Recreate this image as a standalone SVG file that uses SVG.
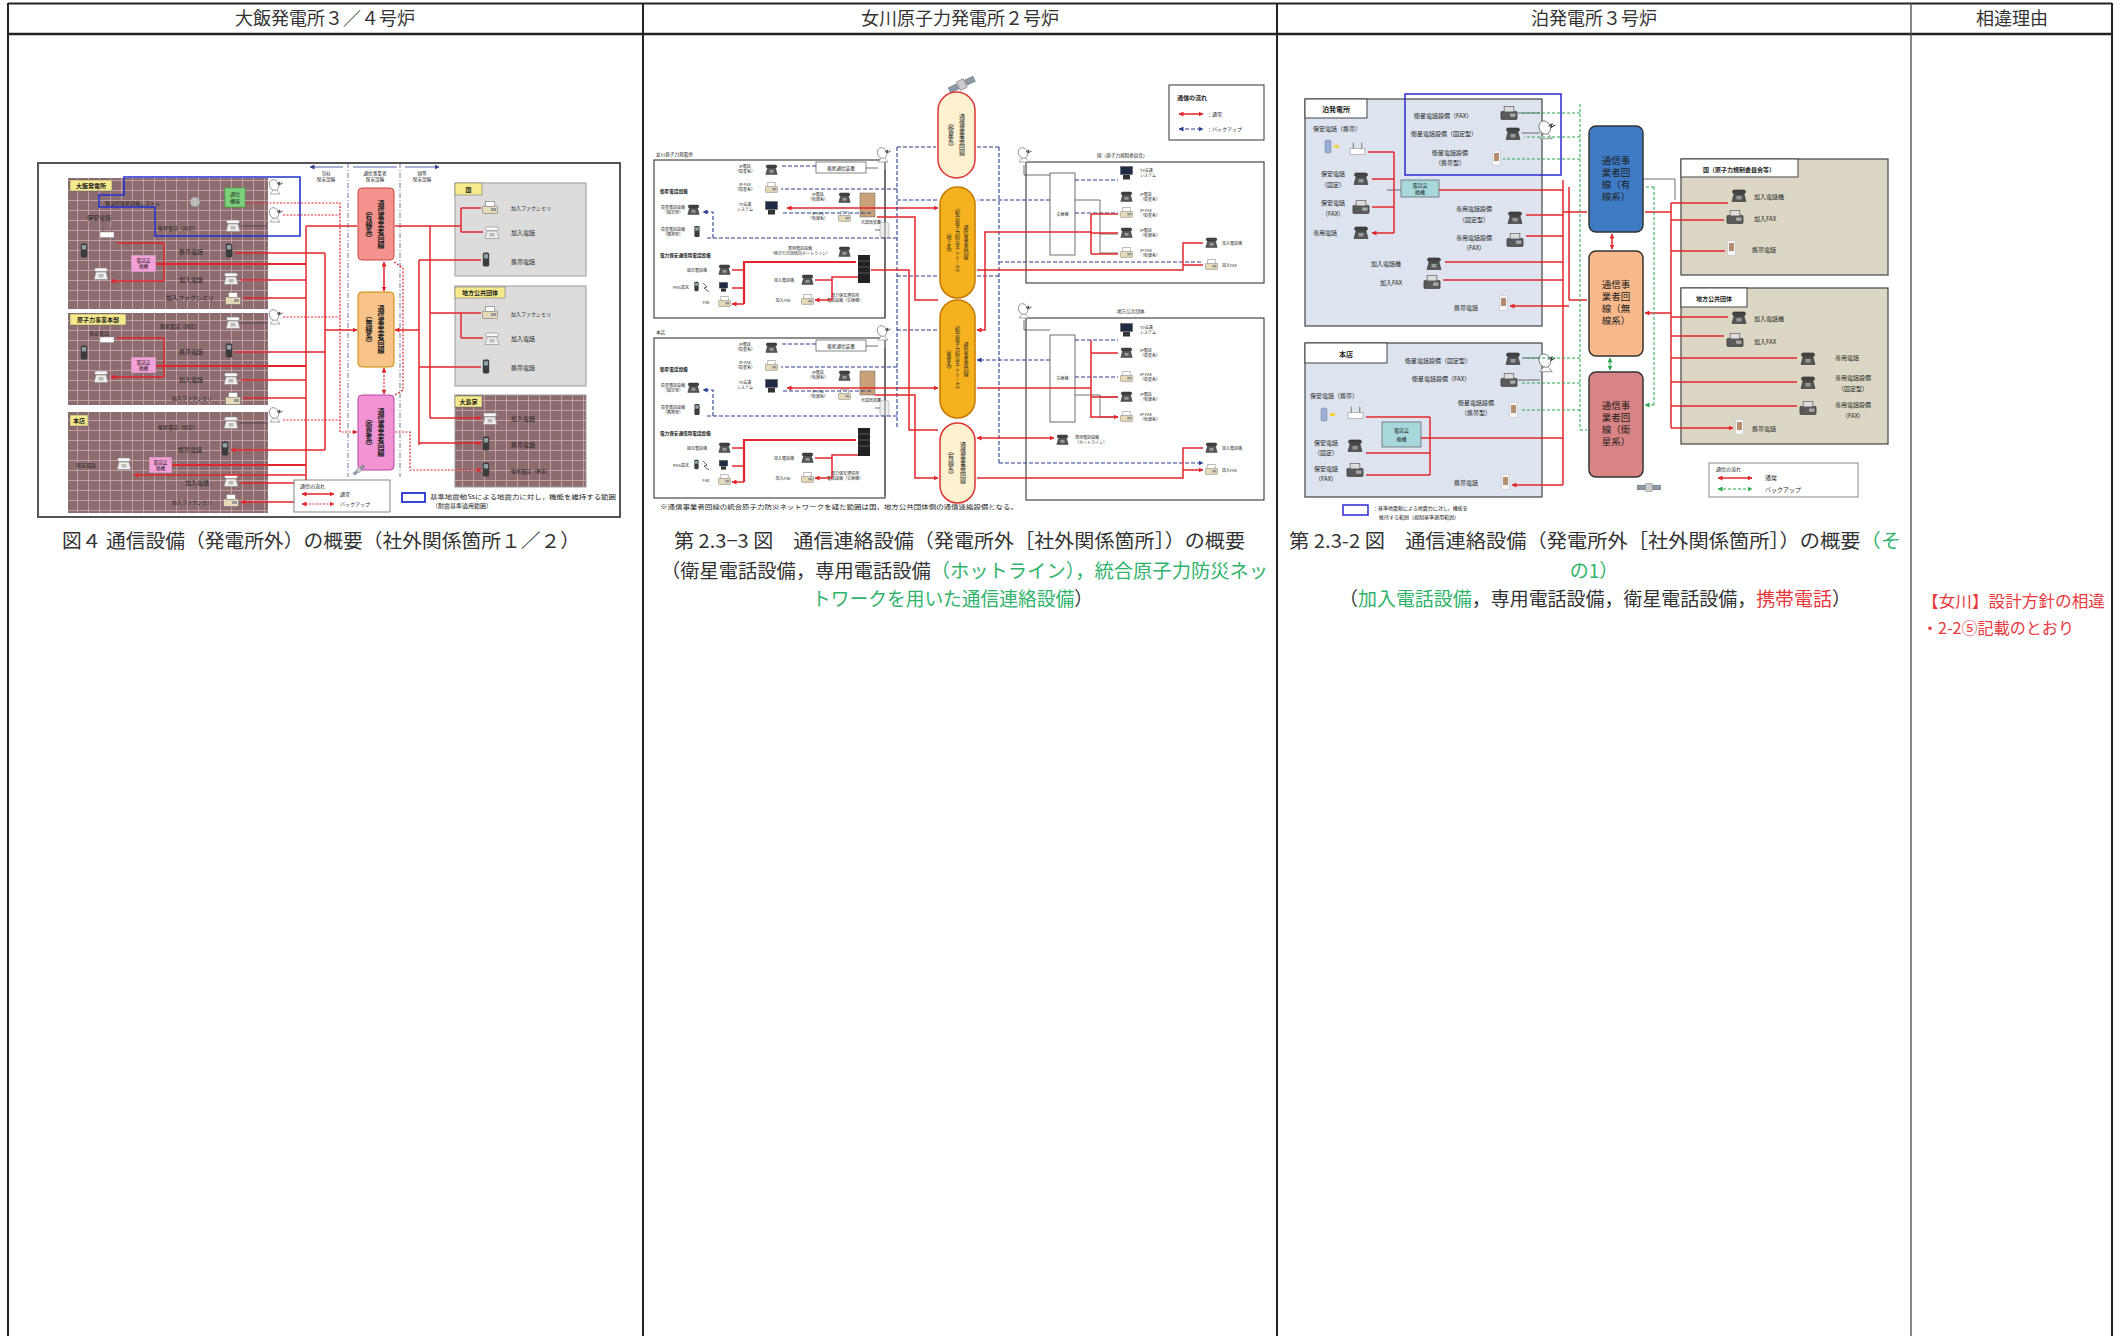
<svg xmlns="http://www.w3.org/2000/svg" width="2121" height="1336" viewBox="0 0 2121 1336">
<defs>
<style>
text{font-family:"Noto Sans CJK JP","Noto Sans",sans-serif;fill:#222}
.hd{font-size:18px;fill:#333}
.cap{font-size:19px;fill:#333}
.gr{fill:#2fb36b}
.red{fill:#e8383d}
.s4{font-size:4px}
.s45{font-size:4.6px}
.s5{font-size:5px}
.s6{font-size:6px}
.s7{font-size:7px}
.b{font-weight:bold}
.r{stroke:#e3262b;stroke-width:1.5;fill:none}
.rk{stroke:#e3262b;stroke-width:2.2;fill:none}
.rd{stroke:#e3262b;stroke-width:1.2;stroke-dasharray:2 1.5;fill:none}
.bl{stroke:#2b3f8f;stroke-width:1.1;stroke-dasharray:4 2;fill:none}
.gd{stroke:#27a84a;stroke-width:1;stroke-dasharray:3 2;fill:none}
.k{stroke:#333;stroke-width:.7;fill:none}
.sep{stroke:#4a5a8a;stroke-width:.8;stroke-dasharray:5 2 1 2;fill:none}
</style>
<pattern id="grid" width="11" height="10" patternUnits="userSpaceOnUse"><rect width="11" height="10" fill="#8d6c70"/><path d="M0 .5H11M.5 0V10" stroke="#caaab0" stroke-width=".8"/></pattern>
<marker id="ar" viewBox="0 0 10 10" refX="9" refY="5" markerWidth="5" markerHeight="5" markerUnits="userSpaceOnUse" orient="auto-start-reverse"><path d="M0 0L10 5L0 10z" fill="#e3262b"/></marker>
<marker id="ab" viewBox="0 0 10 10" refX="9" refY="5" markerWidth="5" markerHeight="5" markerUnits="userSpaceOnUse" orient="auto-start-reverse"><path d="M0 0L10 5L0 10z" fill="#2b3f8f"/></marker>
<marker id="ag" viewBox="0 0 10 10" refX="9" refY="5" markerWidth="5" markerHeight="5" markerUnits="userSpaceOnUse" orient="auto-start-reverse"><path d="M0 0L10 5L0 10z" fill="#27a84a"/></marker>
<symbol id="phw" viewBox="0 0 16 13"><path d="M1 12.5L3 5H13L15 12.5Z" fill="#eee" stroke="#888" stroke-width=".6"/><rect x="1.5" y="1" width="13" height="3.5" rx="1.7" fill="#f7f7f7" stroke="#888" stroke-width=".6"/><rect x="5.5" y="7" width="5" height="3.5" fill="#bbb"/></symbol>
<symbol id="phd" viewBox="0 0 16 13"><path d="M1 12.5L3 5H13L15 12.5Z" fill="#555" stroke="#333" stroke-width=".6"/><rect x="1.5" y="1" width="13" height="3.5" rx="1.7" fill="#444" stroke="#222" stroke-width=".6"/><rect x="5.5" y="7" width="5" height="3.5" fill="#999"/></symbol>
<symbol id="fxw" viewBox="0 0 16 13"><rect x=".5" y="5" width="15" height="7.5" rx="1" fill="#e6d9b8" stroke="#777" stroke-width=".6"/><rect x="3.5" y=".5" width="9" height="5" fill="#fff" stroke="#777" stroke-width=".6"/><rect x="9" y="7" width="5" height="3" fill="#999"/></symbol>
<symbol id="fxd" viewBox="0 0 16 13"><rect x=".5" y="5" width="15" height="7.5" rx="1" fill="#5a5a5a" stroke="#333" stroke-width=".6"/><rect x="3.5" y=".5" width="9" height="5" fill="#ddd" stroke="#555" stroke-width=".6"/><rect x="9" y="7" width="5" height="3" fill="#aaa"/></symbol>
<symbol id="mbd" viewBox="0 0 7 14"><rect x=".5" y=".5" width="6" height="13" rx="1.5" fill="#3c3c3c"/><rect x="1.5" y="2" width="4" height="4" fill="#8fa3a8"/></symbol>
<symbol id="mbw" viewBox="0 0 9 16"><rect x=".5" y=".5" width="8" height="15" rx="1.5" fill="#f6f6f6" stroke="#bbb" stroke-width=".5"/><rect x="2" y="3" width="5" height="8" fill="#b58c6e"/></symbol>
<symbol id="dish" viewBox="0 0 16 16"><path d="M3 15L8 9L13 15Z" fill="#fff" stroke="#777" stroke-width=".6"/><ellipse cx="7" cy="6" rx="4.5" ry="5.5" fill="#fff" stroke="#777" stroke-width=".7" transform="rotate(-25 7 6)"/><path d="M10 5L13 3L12 6L15.5 4" fill="none" stroke="#222" stroke-width=".8"/></symbol>
<symbol id="tv" viewBox="0 0 13 14"><rect x=".5" y=".5" width="12" height="8" fill="#1f2a44" stroke="#555" stroke-width=".5"/><rect x="3" y="9" width="7" height="4.5" fill="#333"/></symbol>
<symbol id="sat" viewBox="0 0 30 14"><rect x="0" y="4" width="10" height="6" fill="#8a9aa8" stroke="#555" stroke-width=".5"/><rect x="20" y="4" width="10" height="6" fill="#8a9aa8" stroke="#555" stroke-width=".5"/><rect x="11" y="2" width="8" height="10" fill="#ccc" stroke="#555" stroke-width=".5"/></symbol>
<symbol id="rtr" viewBox="0 0 16 12"><rect x="1" y="6" width="14" height="5.5" fill="#fff" stroke="#888" stroke-width=".5"/><path d="M4 6V.5M12 6V.5" stroke="#666" stroke-width=".8"/></symbol>
</defs>

<rect width="2121" height="1336" fill="#fff"/>

<g id="table">
<path d="M8 3.5H2112" stroke="#222" stroke-width="2"/>
<path d="M8 34H2112" stroke="#222" stroke-width="2.5"/>
<path d="M8 3V1336M2112 3V1336M643 3V1336M1277 3V1336" stroke="#222" stroke-width="2"/>
<path d="M1911 3V1336" stroke="#555" stroke-width="1.4"/>
<text x="325" y="25" class="hd" text-anchor="middle">大飯発電所３／４号炉</text>
<text x="960" y="25" class="hd" text-anchor="middle">女川原子力発電所２号炉</text>
<text x="1594" y="25" class="hd" text-anchor="middle">泊発電所３号炉</text>
<text x="2012" y="25" class="hd" text-anchor="middle">相違理由</text>
</g>

<!-- ============ LEFT: Ohi ============ -->
<g id="ohi-diagram">
<rect x="38" y="163" width="582" height="354" fill="#fff" stroke="#555" stroke-width="2"/>
<g id="ohi-plant">
<rect x="68" y="178" width="200" height="131" fill="url(#grid)"/>
<rect x="70" y="180" width="42" height="11" fill="#f6ea8c" stroke="#666" stroke-width=".5"/>
<text x="91" y="188" class="s6 b" text-anchor="middle">大飯発電所</text>
<rect x="225" y="188" width="20" height="19" fill="#7ed07e" stroke="#3a3" stroke-width=".6"/>
<text x="235" y="196" class="s5" text-anchor="middle">通信</text><text x="235" y="203" class="s5" text-anchor="middle">機器</text>
<text x="105" y="205" class="s5">緊急時衛星通報システム</text>
<circle cx="195" cy="202" r="5" fill="#bbb" stroke="#777" stroke-width=".5"/>
<text x="87" y="220" class="s6">保安電話</text>
<text x="158" y="230" class="s5">衛星電話（固定）</text>
<use href="#phw" x="225" y="219" width="16" height="13"/>
<use href="#rtr" x="99" y="226" width="16" height="12"/>
<use href="#mbd" x="80" y="243" width="8" height="15"/>
<use href="#phw" x="93" y="267" width="16" height="13"/>
<rect x="131" y="255" width="25" height="17" fill="#f5a0d8" stroke="#777" stroke-width=".5"/>
<text x="143.5" y="262" class="s45" text-anchor="middle">電話交</text><text x="143.5" y="268" class="s45" text-anchor="middle">換機</text>
<text x="179" y="254" class="s6">携帯電話</text>
<use href="#mbd" x="225" y="243" width="8" height="15"/>
<text x="179" y="282" class="s6">加入電話</text>
<use href="#phw" x="223" y="272" width="16" height="13"/>
<text x="166" y="300" class="s6">加入ファクシミリ</text>
<use href="#fxw" x="225" y="292" width="16" height="13"/>
<use href="#dish" x="267" y="179" width="16" height="16"/>
<use href="#dish" x="267" y="207" width="16" height="16"/>
</g>
<g id="ohi-hq">
<rect x="68" y="313" width="200" height="92" fill="url(#grid)"/>
<rect x="70" y="314" width="56" height="11" fill="#f6ea8c" stroke="#666" stroke-width=".5"/>
<text x="98" y="322" class="s6 b" text-anchor="middle">原子力事業本部</text>
<text x="89" y="335" class="s5">保安電話</text>
<text x="160" y="328" class="s5">衛星電話（固定）</text>
<use href="#phw" x="225" y="316" width="16" height="13"/>
<use href="#rtr" x="99" y="331" width="16" height="12"/>
<use href="#mbd" x="80" y="345" width="8" height="15"/>
<use href="#phw" x="93" y="370" width="16" height="13"/>
<rect x="131" y="357" width="25" height="16" fill="#f5a0d8" stroke="#777" stroke-width=".5"/>
<text x="143.5" y="364" class="s45" text-anchor="middle">電話交</text><text x="143.5" y="370" class="s45" text-anchor="middle">換機</text>
<text x="179" y="354" class="s6">携帯電話</text>
<use href="#mbd" x="225" y="343" width="8" height="15"/>
<text x="179" y="382" class="s6">加入電話</text>
<use href="#phw" x="223" y="372" width="16" height="13"/>
<text x="172" y="400" class="s5">加入ファクシミリ</text>
<use href="#fxw" x="225" y="392" width="16" height="13"/>
<use href="#dish" x="267" y="309" width="16" height="16"/>
</g>
<g id="ohi-honten">
<rect x="68" y="412" width="200" height="101" fill="url(#grid)"/>
<rect x="70" y="415" width="18" height="11" fill="#f6ea8c" stroke="#666" stroke-width=".5"/>
<text x="79" y="423" class="s6 b" text-anchor="middle">本店</text>
<text x="158" y="429" class="s5">衛星電話（固定）</text>
<use href="#phw" x="223" y="416" width="16" height="13"/>
<text x="178" y="452" class="s6">携帯電話</text>
<use href="#mbd" x="221" y="441" width="8" height="15"/>
<text x="76" y="467" class="s5">保安電話</text>
<use href="#phw" x="116" y="457" width="16" height="13"/>
<rect x="149" y="457" width="23" height="16" fill="#f5a0d8" stroke="#777" stroke-width=".5"/>
<text x="160.5" y="464" class="s45" text-anchor="middle">電話交</text><text x="160.5" y="470" class="s45" text-anchor="middle">換機</text>
<text x="185" y="485" class="s6">加入電話</text>
<use href="#phw" x="223" y="474" width="16" height="13"/>
<text x="172" y="504" class="s5">加入ファクシミリ</text>
<use href="#fxw" x="223" y="494" width="16" height="13"/>
<use href="#dish" x="267" y="407" width="16" height="16"/>
</g>
<polygon id="ohi-seismic" points="124,177 300,177 300,236 155,236 155,207 99,207 99,195 124,195" fill="none" stroke="#2233cc" stroke-width="1.6"/>

<g id="ohi-carriers">
<path class="sep" d="M348 163V477M400 163V477"/>
<path d="M310 167H343M353 167H397M405 167H439" stroke="#2b3f8f" stroke-width=".8" marker-start="url(#ab)" marker-end="url(#ab)"/>
<text x="326" y="175" class="s45" text-anchor="middle">当社</text><text x="326" y="181" class="s45" text-anchor="middle">保安設備</text>
<text x="375" y="175" class="s45" text-anchor="middle">通信事業者</text><text x="375" y="181" class="s45" text-anchor="middle">保安設備</text>
<text x="422" y="175" class="s45" text-anchor="middle">国等</text><text x="422" y="181" class="s45" text-anchor="middle">保安設備</text>
<g id="ohi-wired"><rect x="358" y="188" width="36" height="72" rx="4" fill="#f4938e" stroke="#c44" stroke-width="1"/>
<text x="381 381 381 381 381 381 381" y="205.7 212.7 219.7 226.7 233.7 240.7 247.7" class="s7 b" text-anchor="middle">通信事業者回線</text>
<text x="369 369 369 369 369" y="212.7 219.7 226.7 233.7 240.7" class="s7 b" text-anchor="middle">︵有線系︶</text></g>
<g id="ohi-wireless"><rect x="358" y="292" width="36" height="75" rx="4" fill="#f8c489" stroke="#c80" stroke-width="1"/>
<text x="381 381 381 381 381 381 381" y="311.2 318.2 325.2 332.2 339.2 346.2 353.2" class="s7 b" text-anchor="middle">通信事業者回線</text>
<text x="369 369 369 369 369" y="318.2 325.2 332.2 339.2 346.2" class="s7 b" text-anchor="middle">︵無線系︶</text></g>
<g id="ohi-satellite"><rect x="358" y="395" width="36" height="75" rx="4" fill="#f293d4" stroke="#b4a" stroke-width="1"/>
<text x="381 381 381 381 381 381 381" y="414.2 421.2 428.2 435.2 442.2 449.2 456.2" class="s7 b" text-anchor="middle">通信事業者回線</text>
<text x="369 369 369 369 369" y="421.2 428.2 435.2 442.2 449.2" class="s7 b" text-anchor="middle">︵衛星系︶</text></g>
<use href="#sat" x="352" y="466" width="14" height="8" transform="rotate(-40 359 470)"/>
</g>

<g id="ohi-offsite">
<g id="ohi-kuni"><rect x="455" y="183" width="131" height="93" fill="#dcdcdc" stroke="#999" stroke-width="1"/>
<rect x="455" y="183" width="27" height="12" fill="#f6ea8c" stroke="#666" stroke-width=".5"/><text x="468.5" y="192" class="s6 b" text-anchor="middle">国</text>
<use href="#fxw" x="482" y="201" width="16" height="13"/><text x="511" y="210" class="s5">加入ファクシミリ</text>
<use href="#phw" x="484" y="226" width="16" height="13"/><text x="511" y="235" class="s6">加入電話</text>
<use href="#mbd" x="482" y="252" width="8" height="15"/><text x="511" y="264" class="s6">携帯電話</text></g>
<g id="ohi-local"><rect x="455" y="286" width="131" height="100" fill="#dcdcdc" stroke="#999" stroke-width="1"/>
<rect x="455" y="287" width="50" height="11" fill="#f6ea8c" stroke="#666" stroke-width=".5"/><text x="480" y="295" class="s6 b" text-anchor="middle">地方公共団体</text>
<use href="#fxw" x="482" y="306" width="16" height="13"/><text x="511" y="316" class="s5">加入ファクシミリ</text>
<use href="#phw" x="484" y="332" width="16" height="13"/><text x="511" y="341" class="s6">加入電話</text>
<use href="#mbd" x="482" y="359" width="8" height="15"/><text x="511" y="370" class="s6">携帯電話</text></g>
<g id="ohi-oshima"><rect x="455" y="395" width="131" height="92" fill="url(#grid)" stroke="#999" stroke-width="1"/>
<rect x="455" y="396" width="27" height="11" fill="#f6ea8c" stroke="#666" stroke-width=".5"/><text x="468.5" y="404" class="s6 b" text-anchor="middle">大島家</text>
<use href="#phw" x="482" y="412" width="16" height="13"/><text x="511" y="421" class="s6">加入電話</text>
<use href="#mbd" x="482" y="436" width="8" height="15"/><text x="511" y="447" class="s6">携帯電話</text>
<use href="#mbd" x="482" y="462" width="8" height="15"/><text x="511" y="473" class="s5">衛星電話（携帯）</text></g>
</g>

<g id="ohi-connectors">
<path class="r" d="M164 243V281"/><path class="r" d="M164 243H117M164 281H111" marker-end="url(#ar)"/>
<path class="r" d="M164 338V377"/><path class="r" d="M164 338H117M164 377H111" marker-end="url(#ar)"/>
<path class="k" d="M241 226H267M241 323H267M239 423H267"/>
<path class="rk" d="M156 264H306M156 366H306M172 465H306"/>
<path class="r" d="M306 475H134" marker-end="url(#ar)"/>
<path class="r" d="M306 226V502M325 253V450"/>
<path class="r" d="M306 226H357M325 330H357" marker-end="url(#ar)"/>
<path class="r" d="M306 280H241M306 298H243M306 380H241M306 398H243M306 483H241M306 502H241" marker-end="url(#ar)"/>
<path class="r" d="M325 253H235M325 352H235M325 450H231" marker-end="url(#ar)"/>
<path class="rd" d="M245 203H340V432H357" marker-end="url(#ar)"/>
<path class="rd" d="M283 317H340M283 420H340M283 215H340"/>
<path class="r" d="M384 262V291" marker-start="url(#ar)" marker-end="url(#ar)"/>
<path class="rd" d="M384 368V394" marker-start="url(#ar)" marker-end="url(#ar)"/>
<path class="rd" d="M394 262L403 268V390L395 395"/>
<path class="r" d="M461 226H395M419 330H395" marker-end="url(#ar)"/>
<path class="r" d="M430 226V418M419 260V445M461 208V232M461 313V338M430 313H461"/>
<path class="r" d="M461 208H481M461 232H483M461 313H481M461 338H483M430 418H481" marker-end="url(#ar)"/>
<path class="r" d="M419 260H481M419 367H481M419 443H481" marker-end="url(#ar)"/>
<path class="rd" d="M395 432H410V470H481" marker-end="url(#ar)"/>
</g>

<g id="ohi-legend">
<rect x="294" y="480" width="96" height="32" fill="#fff" stroke="#666" stroke-width=".8"/>
<text x="300" y="488" class="s5">通信の流れ</text>
<path class="r" d="M302 494H334" marker-start="url(#ar)" marker-end="url(#ar)"/><text x="340" y="496" class="s5">通常</text>
<path class="rd" d="M302 504H334" marker-start="url(#ar)" marker-end="url(#ar)"/><text x="340" y="506" class="s5">バックアップ</text>
<rect x="402" y="493" width="23" height="9" fill="none" stroke="#2233cc" stroke-width="1.8"/>
<text x="430" y="499" class="s6" textLength="186" lengthAdjust="spacingAndGlyphs">基準地震動Ssによる地震力に対し，機能を維持する範囲</text>
<text x="432" y="508" class="s6">（耐震基準適用範囲）</text>
</g>
</g>

<!-- ============ MIDDLE: Onagawa ============ -->
<g id="onagawa-diagram">
<use href="#sat" x="948" y="78" width="28" height="13" transform="rotate(-25 962 85)"/>
<g id="ona-cap1"><rect x="938" y="92" width="37" height="86" rx="18.5" fill="#fdf1cf" stroke="#d33" stroke-width="1.5"/>
<text x="962 962 962 962 962 962 962" y="119.3 125.3 131.3 137.3 143.3 149.3 155.3" class="s6" text-anchor="middle">通信事業者回線</text>
<text x="951 951 951 951 951" y="125.3 131.3 137.3 143.3 149.3" class="s6" text-anchor="middle">︵衛星系︶</text></g>
<g id="ona-cap2"><rect x="940" y="187" width="35" height="111" rx="17.5" fill="#f6b21e" stroke="#c77a00" stroke-width="1.5"/>
<text x="966 966 966 966 966 966 966" y="229.4 234.4 239.4 244.4 249.4 254.4 259.4" class="s5" text-anchor="middle">通信事業者回線</text>
<text x="957.5 957.5 957.5 957.5 957.5 957.5 957.5 957.5 957.5 957.5 957.5 957.5 957.5 957.5 957.5" y="209.4 214.4 219.4 224.4 229.4 234.4 239.4 244.4 249.4 254.4 259.4 264.4 269.4 274.4 279.4" class="s5" text-anchor="middle">︵統合原子力防災ネット｜ク︶</text>
<text x="949 949 949 949 949" y="234.4 239.4 244.4 249.4 254.4" class="s5" text-anchor="middle">︵地上系︶</text></g>
<g id="ona-cap3"><rect x="940" y="300" width="35" height="118" rx="17.5" fill="#f6b21e" stroke="#c77a00" stroke-width="1.5"/>
<text x="966 966 966 966 966 966 966" y="345.9 350.9 355.9 360.9 365.9 370.9 375.9" class="s5" text-anchor="middle">通信事業者回線</text>
<text x="957.5 957.5 957.5 957.5 957.5 957.5 957.5 957.5 957.5 957.5 957.5 957.5 957.5 957.5 957.5" y="325.9 330.9 335.9 340.9 345.9 350.9 355.9 360.9 365.9 370.9 375.9 380.9 385.9 390.9 395.9" class="s5" text-anchor="middle">︵統合原子力防災ネット｜ク︶</text>
<text x="949 949 949 949 949" y="350.9 355.9 360.9 365.9 370.9" class="s5" text-anchor="middle">︵衛星系︶</text></g>
<g id="ona-cap4"><rect x="940" y="423" width="35" height="80" rx="17.5" fill="#fdf1cf" stroke="#d33" stroke-width="1.5"/>
<text x="963 963 963 963 963 963 963" y="447.3 453.3 459.3 465.3 471.3 477.3 483.3" class="s6" text-anchor="middle">通信事業者回線</text>
<text x="951 951 951 951 951" y="453.3 459.3 465.3 471.3 477.3" class="s6" text-anchor="middle">︵有線系︶</text></g>

<g id="ona-legend"><rect x="1169" y="85" width="95" height="55" fill="#fff" stroke="#333" stroke-width="1"/>
<text x="1177" y="100" class="s6 b">通信の流れ</text>
<path class="r" d="M1179 114H1203" marker-start="url(#ar)" marker-end="url(#ar)"/><text x="1207" y="116" class="s5">：通常</text>
<path class="bl" d="M1179 129H1203" marker-start="url(#ab)" marker-end="url(#ab)"/><text x="1207" y="131" class="s5">：バックアップ</text></g>

<g id="ona-plant">
<rect x="654" y="160" width="231" height="158" fill="none" stroke="#222" stroke-width="1"/>
<text x="656" y="156" class="s45">女川原子力発電所</text>
<g id="ona-plant-eq">
<rect x="816" y="162" width="50" height="11" fill="#fff" stroke="#333" stroke-width=".6"/><text x="841" y="169.5" class="s45" text-anchor="middle">衛星通信装置</text>
<use href="#phd" x="765" y="164" width="13" height="11"/><text x="745" y="168" class="s4" text-anchor="middle">IP電話</text><text x="745" y="173" class="s4" text-anchor="middle">（衛星系）</text>
<use href="#fxw" x="765" y="182" width="13" height="11"/><text x="745" y="186" class="s4" text-anchor="middle">IP-FAX</text><text x="745" y="191" class="s4" text-anchor="middle">（衛星系）</text>
<use href="#tv" x="765" y="201" width="13" height="14"/><text x="745" y="206" class="s4" text-anchor="middle">TV会議</text><text x="745" y="211" class="s4" text-anchor="middle">システム</text>
<use href="#phd" x="838" y="192" width="13" height="11"/><text x="818" y="196" class="s4" text-anchor="middle">IP電話</text><text x="818" y="201" class="s4" text-anchor="middle">（有線系）</text>
<use href="#fxw" x="838" y="211" width="13" height="11"/><text x="818" y="215" class="s4" text-anchor="middle">IP-FAX</text><text x="818" y="220" class="s4" text-anchor="middle">（有線系）</text>
<rect x="860" y="193" width="15" height="24" fill="#c9a078" stroke="#666" stroke-width=".5"/>
<text x="871" y="224" class="s4" text-anchor="middle">光端局装置</text>
<text x="660" y="193" class="s45 b">衛星電話設備</text>
<use href="#phd" x="687" y="204" width="13" height="11"/><text x="673" y="209" class="s4" text-anchor="middle">衛星電話設備</text><text x="673" y="214" class="s4" text-anchor="middle">（固定型）</text>
<use href="#mbd" x="694" y="225" width="6" height="13"/><text x="673" y="231" class="s4" text-anchor="middle">衛星電話設備</text><text x="673" y="236" class="s4" text-anchor="middle">（携帯型）</text>
<text x="660" y="257" class="s45 b">電力保安通信用電話設備</text>
<use href="#phd" x="718" y="264" width="13" height="11"/><text x="697" y="272" class="s4" text-anchor="middle">固定電話機</text>
<use href="#mbd" x="694" y="281" width="5" height="11"/><path d="M703 283L707 287L704 288L709 292" stroke="#222" stroke-width=".7" fill="none"/>
<use href="#tv" x="718" y="282" width="11" height="10"/><text x="681" y="289" class="s4" text-anchor="middle">PHS端末</text>
<use href="#fxw" x="718" y="296" width="13" height="11"/><text x="706" y="304" class="s4" text-anchor="middle">FAX</text>
<use href="#phd" x="838" y="246" width="13" height="11"/><text x="800" y="250" class="s4" text-anchor="middle">専用電話設備</text><text x="800" y="255" class="s4" text-anchor="middle">（地方公共団体向ホットライン）</text>
<rect x="858" y="255" width="12" height="28" fill="#222"/><path d="M858 261H870M858 267H870M858 273H870" stroke="#888" stroke-width=".5"/>
<use href="#phd" x="801" y="274" width="13" height="11"/><text x="784" y="282" class="s4" text-anchor="middle">加入電話機</text>
<use href="#fxw" x="801" y="294" width="13" height="11"/><text x="783" y="302" class="s4" text-anchor="middle">加入FAX</text>
<text x="845" y="297" class="s4" text-anchor="middle">電力保安通信用</text><text x="845" y="302" class="s4" text-anchor="middle">電話設備（交換機）</text>
<rect x="880" y="222" width="9" height="16" rx="3" fill="#eee" stroke="#999" stroke-width=".5"/>
<use href="#dish" x="875" y="147" width="16" height="16"/>
<path class="k" d="M885 170V318M866 168H878M875 230H880"/>
<path class="bl" d="M816 166H781M897 189H781M871 213H781M897 238H707M713 238V212H703" marker-end="url(#ab)"/>
<path class="r" d="M787 208H938" marker-start="url(#ar)" marker-end="url(#ar)"/>
<path class="rk" d="M856 262H744V304"/>
<path class="r" d="M744 270H732M744 288H732M744 304H732" marker-end="url(#ar)"/>
<path class="r" d="M858 277H832V300M832 280H815M832 300H815" marker-end="url(#ar)"/>
</g>
</g>

<g id="ona-honten">
<rect x="654" y="338" width="231" height="160" fill="none" stroke="#222" stroke-width="1"/>
<text x="656" y="334" class="s45">本店</text>
<g transform="translate(0 178)">
<rect x="816" y="162" width="50" height="11" fill="#fff" stroke="#333" stroke-width=".6"/><text x="841" y="169.5" class="s45" text-anchor="middle">衛星通信装置</text>
<use href="#phd" x="765" y="164" width="13" height="11"/><text x="745" y="168" class="s4" text-anchor="middle">IP電話</text><text x="745" y="173" class="s4" text-anchor="middle">（衛星系）</text>
<use href="#fxw" x="765" y="182" width="13" height="11"/><text x="745" y="186" class="s4" text-anchor="middle">IP-FAX</text><text x="745" y="191" class="s4" text-anchor="middle">（衛星系）</text>
<use href="#tv" x="765" y="201" width="13" height="14"/><text x="745" y="206" class="s4" text-anchor="middle">TV会議</text><text x="745" y="211" class="s4" text-anchor="middle">システム</text>
<use href="#phd" x="838" y="192" width="13" height="11"/><text x="818" y="196" class="s4" text-anchor="middle">IP電話</text><text x="818" y="201" class="s4" text-anchor="middle">（有線系）</text>
<use href="#fxw" x="838" y="211" width="13" height="11"/><text x="818" y="215" class="s4" text-anchor="middle">IP-FAX</text><text x="818" y="220" class="s4" text-anchor="middle">（有線系）</text>
<rect x="860" y="193" width="15" height="24" fill="#c9a078" stroke="#666" stroke-width=".5"/>
<text x="871" y="224" class="s4" text-anchor="middle">光端局装置</text>
<text x="660" y="193" class="s45 b">衛星電話設備</text>
<use href="#phd" x="687" y="204" width="13" height="11"/><text x="673" y="209" class="s4" text-anchor="middle">衛星電話設備</text><text x="673" y="214" class="s4" text-anchor="middle">（固定型）</text>
<use href="#mbd" x="694" y="225" width="6" height="13"/><text x="673" y="231" class="s4" text-anchor="middle">衛星電話設備</text><text x="673" y="236" class="s4" text-anchor="middle">（携帯型）</text>
<text x="660" y="257" class="s45 b">電力保安通信用電話設備</text>
<use href="#phd" x="718" y="264" width="13" height="11"/><text x="697" y="272" class="s4" text-anchor="middle">固定電話機</text>
<use href="#mbd" x="694" y="281" width="5" height="11"/><path d="M703 283L707 287L704 288L709 292" stroke="#222" stroke-width=".7" fill="none"/>
<use href="#tv" x="718" y="282" width="11" height="10"/><text x="681" y="289" class="s4" text-anchor="middle">PHS端末</text>
<use href="#fxw" x="718" y="296" width="13" height="11"/><text x="706" y="304" class="s4" text-anchor="middle">FAX</text>
<rect x="858" y="250" width="12" height="28" fill="#222"/><path d="M858 256H870M858 262H870M858 268H870" stroke="#888" stroke-width=".5"/>
<use href="#phd" x="801" y="274" width="13" height="11"/><text x="784" y="282" class="s4" text-anchor="middle">加入電話機</text>
<use href="#fxw" x="801" y="294" width="13" height="11"/><text x="783" y="302" class="s4" text-anchor="middle">加入FAX</text>
<text x="845" y="297" class="s4" text-anchor="middle">電力保安通信用</text><text x="845" y="302" class="s4" text-anchor="middle">電話設備（交換機）</text>
<rect x="880" y="222" width="9" height="16" rx="3" fill="#eee" stroke="#999" stroke-width=".5"/>
<use href="#dish" x="875" y="147" width="16" height="16"/>
<path class="k" d="M885 170V318M866 168H878M875 230H880"/>
<path class="bl" d="M816 166H781M897 189H781M871 213H781M897 238H707M713 238V212H703" marker-end="url(#ab)"/>
<path class="r" d="M787 210H938" marker-start="url(#ar)" marker-end="url(#ar)"/>
<path class="rk" d="M856 262H744V304"/>
<path class="r" d="M744 270H732M744 288H732M744 304H732" marker-end="url(#ar)"/>
<path class="r" d="M858 277H832V300M832 280H815M832 300H815" marker-end="url(#ar)"/>
</g>
</g>

<g id="ona-kuni">
<rect x="1026" y="162" width="238" height="121" fill="none" stroke="#222" stroke-width="1"/>
<text x="1097" y="157" class="s45">国（原子力規制委員会）</text>
<use href="#dish" x="1016" y="147" width="16" height="16"/>
<rect x="1050" y="173" width="25" height="82" fill="#fff" stroke="#333" stroke-width=".7"/><text x="1062.5" y="216" class="s4" text-anchor="middle">交換機</text>
<use href="#tv" x="1120" y="166" width="13" height="14"/><text x="1140" y="172" class="s4">TV会議</text><text x="1140" y="177" class="s4">システム</text>
<use href="#phd" x="1120" y="191" width="13" height="11"/><text x="1140" y="196" class="s4">IP電話</text><text x="1140" y="201" class="s4">（衛星系）</text>
<use href="#fxw" x="1120" y="207" width="13" height="11"/><text x="1140" y="212" class="s4">IP-FAX</text><text x="1140" y="217" class="s4">（衛星系）</text>
<use href="#phd" x="1120" y="227" width="13" height="11"/><text x="1140" y="232" class="s4">IP電話</text><text x="1140" y="237" class="s4">（有線系）</text>
<use href="#fxw" x="1120" y="247" width="13" height="11"/><text x="1140" y="252" class="s4">IP-FAX</text><text x="1140" y="257" class="s4">（有線系）</text>
<use href="#phd" x="1205" y="237" width="13" height="11"/><text x="1222" y="245" class="s4">加入電話機</text>
<use href="#fxw" x="1205" y="259" width="13" height="11"/><text x="1222" y="267" class="s4">加入FAX</text>
</g>

<g id="ona-local">
<rect x="1026" y="318" width="238" height="182" fill="none" stroke="#222" stroke-width="1"/>
<text x="1117" y="313" class="s45">地方公共団体</text>
<use href="#dish" x="1016" y="303" width="16" height="16"/>
<rect x="1050" y="335" width="25" height="87" fill="#fff" stroke="#333" stroke-width=".7"/><text x="1062.5" y="380" class="s4" text-anchor="middle">交換機</text>
<use href="#tv" x="1120" y="323" width="13" height="14"/><text x="1140" y="329" class="s4">TV会議</text><text x="1140" y="334" class="s4">システム</text>
<use href="#phd" x="1120" y="347" width="13" height="11"/><text x="1140" y="352" class="s4">IP電話</text><text x="1140" y="357" class="s4">（衛星系）</text>
<use href="#fxw" x="1120" y="371" width="13" height="11"/><text x="1140" y="376" class="s4">IP-FAX</text><text x="1140" y="381" class="s4">（衛星系）</text>
<use href="#phd" x="1120" y="391" width="13" height="11"/><text x="1140" y="396" class="s4">IP電話</text><text x="1140" y="401" class="s4">（有線系）</text>
<use href="#fxw" x="1120" y="411" width="13" height="11"/><text x="1140" y="416" class="s4">IP-FAX</text><text x="1140" y="421" class="s4">（有線系）</text>
<use href="#phd" x="1056" y="434" width="13" height="11"/><text x="1075" y="439" class="s4">専用電話設備</text><text x="1075" y="444" class="s4">（ホットライン）</text>
<use href="#phd" x="1205" y="442" width="13" height="11"/><text x="1222" y="450" class="s4">加入電話機</text>
<use href="#fxw" x="1205" y="464" width="13" height="11"/><text x="1222" y="472" class="s4">加入FAX</text>
</g>

<g id="ona-connectors">
<path class="bl" d="M897 147V427M999 147V463"/>
<path class="bl" d="M897 147H936M999 147H977M897 200H938M1050 200H977M897 276H938M999 276H977M897 330H938M1050 360H977" marker-end="url(#ab)"/>
<path class="bl" d="M1075 180H1118M1075 213H1118M1075 340H1118M1075 377H1118M999 262H1203M999 463H1203" marker-end="url(#ab)"/>
<path class="k" d="M1024 165V175H1050M1024 320V330H1050M1075 200H1100V253H1118M1100 234H1118M1075 395H1100V417H1118M1100 397H1118"/>
<path class="r" d="M877 217H915V300H938M871 270H909V430H938M875 395H915V478H938" marker-end="url(#ar)"/>
<path class="r" d="M1091 232H985V330H977" marker-end="url(#ar)"/>
<path class="r" d="M1091 214V254M1091 340V418"/>
<path class="r" d="M1091 214H1118M1091 233H1118M1091 254H1118M1091 353H1118M1091 397H1118M1091 417H1118" marker-end="url(#ar)"/>
<path class="r" d="M977 388H1091"/>
<path class="r" d="M977 270H1183V243H1203M1183 265H1203M977 478H1183V448H1203M1183 470H1203" marker-end="url(#ar)"/>
<path class="r" d="M977 438H1054" marker-start="url(#ar)" marker-end="url(#ar)"/>
</g>
<text x="660" y="509" class="s6" textLength="358" lengthAdjust="spacingAndGlyphs">※通信事業者回線の統合原子力防災ネットワークを経た範囲は国，地方公共団体側の通信連絡設備となる。</text>
</g>

<!-- ============ RIGHT: Tomari ============ -->
<g id="tomari-diagram">
<g id="tom-plant">
<rect x="1305" y="99" width="237" height="227" fill="#dde4f0" stroke="#444" stroke-width="1.2"/>
<rect x="1305" y="99" width="62" height="19" fill="#fff" stroke="#444" stroke-width="1"/><text x="1336" y="112" class="s7 b" text-anchor="middle">泊発電所</text>
<text x="1414" y="118" class="s6">衛星電話設備（FAX）</text><use href="#fxd" x="1500" y="106" width="18" height="14"/>
<text x="1411" y="136" class="s6">衛星電話設備（固定型）</text><use href="#phd" x="1504" y="127" width="18" height="13"/>
<text x="1450" y="155" class="s6" text-anchor="middle">衛星電話設備</text><text x="1450" y="165" class="s6" text-anchor="middle">（携帯型）</text><use href="#mbw" x="1492" y="150" width="9" height="16"/>
<use href="#dish" x="1536" y="120" width="20" height="20"/>
<text x="1313" y="131" class="s6">保安電話（携帯）</text>
<rect x="1325" y="140" width="6" height="13" rx="1.5" fill="#9ab0d6" stroke="#667" stroke-width=".4"/><rect x="1334" y="145" width="5" height="3" fill="#f2d040"/>
<use href="#rtr" x="1349" y="142" width="17" height="13"/>
<text x="1333" y="176" class="s6" text-anchor="middle">保安電話</text><text x="1333" y="187" class="s6" text-anchor="middle">（固定）</text><use href="#phd" x="1352" y="172" width="18" height="13"/>
<text x="1333" y="205" class="s6" text-anchor="middle">保安電話</text><text x="1333" y="216" class="s6" text-anchor="middle">（FAX）</text><use href="#fxd" x="1352" y="200" width="18" height="14"/>
<text x="1313" y="235" class="s6">専用電話</text><use href="#phd" x="1352" y="226" width="18" height="13"/>
<rect x="1401" y="180" width="38" height="17" fill="#a8d8dc" stroke="#444" stroke-width=".6"/><text x="1420" y="187" class="s5" text-anchor="middle">電話交</text><text x="1420" y="194" class="s5" text-anchor="middle">換機</text>
<text x="1474" y="211" class="s6" text-anchor="middle">専用電話設備</text><text x="1474" y="222" class="s6" text-anchor="middle">（固定型）</text><use href="#phd" x="1506" y="211" width="18" height="13"/>
<text x="1474" y="240" class="s6" text-anchor="middle">専用電話設備</text><text x="1474" y="250" class="s6" text-anchor="middle">（FAX）</text><use href="#fxd" x="1506" y="233" width="18" height="14"/>
<text x="1371" y="266" class="s6">加入電話機</text><use href="#phd" x="1425" y="257" width="18" height="13"/>
<text x="1380" y="285" class="s6">加入FAX</text><use href="#fxd" x="1423" y="275" width="18" height="14"/>
<text x="1454" y="310" class="s6">携帯電話</text><use href="#mbw" x="1499" y="295" width="9" height="16"/>
</g>
<rect id="tom-seismic" x="1405" y="94" width="156" height="81" fill="none" stroke="#2b2bd0" stroke-width="1.5"/>

<g id="tom-honten">
<rect x="1305" y="343" width="237" height="154" fill="#dde4f0" stroke="#444" stroke-width="1.2"/>
<rect x="1305" y="343" width="82" height="20" fill="#fff" stroke="#444" stroke-width="1"/><text x="1346" y="357" class="s7 b" text-anchor="middle">本店</text>
<text x="1405" y="363" class="s6">衛星電話設備（固定型）</text><use href="#phd" x="1504" y="352" width="18" height="13"/>
<text x="1412" y="381" class="s6">衛星電話設備（FAX）</text><use href="#fxd" x="1500" y="373" width="18" height="14"/>
<text x="1476" y="405" class="s6" text-anchor="middle">衛星電話設備</text><text x="1476" y="415" class="s6" text-anchor="middle">（携帯型）</text><use href="#mbw" x="1509" y="402" width="9" height="16"/>
<use href="#dish" x="1536" y="353" width="20" height="20"/>
<text x="1310" y="398" class="s6">保安電話（携帯）</text>
<rect x="1321" y="408" width="6" height="13" rx="1.5" fill="#9ab0d6" stroke="#667" stroke-width=".4"/><rect x="1330" y="413" width="5" height="3" fill="#f2d040"/>
<use href="#rtr" x="1347" y="406" width="17" height="13"/>
<rect x="1382" y="422" width="39" height="25" fill="#a8d8dc" stroke="#444" stroke-width=".6"/><text x="1401.5" y="432" class="s5" text-anchor="middle">電話交</text><text x="1401.5" y="441" class="s5" text-anchor="middle">換機</text>
<text x="1326" y="445" class="s6" text-anchor="middle">保安電話</text><text x="1326" y="455" class="s6" text-anchor="middle">（固定）</text><use href="#phd" x="1346" y="439" width="18" height="13"/>
<text x="1326" y="471" class="s6" text-anchor="middle">保安電話</text><text x="1326" y="481" class="s6" text-anchor="middle">（FAX）</text><use href="#fxd" x="1346" y="463" width="18" height="14"/>
<text x="1454" y="485" class="s6">携帯電話</text><use href="#mbw" x="1501" y="474" width="9" height="16"/>
</g>

<g id="tom-carriers">
<g id="tom-wired"><rect x="1589" y="126" width="54" height="106" rx="7" fill="#3f7bc4" stroke="#333" stroke-width="1.5"/>
<text x="1616" y="164" text-anchor="middle" font-size="9.5">通信事</text><text x="1616" y="176" text-anchor="middle" font-size="9.5">業者回</text><text x="1616" y="188" text-anchor="middle" font-size="9.5">線（有</text><text x="1616" y="200" text-anchor="middle" font-size="9.5">線系）</text></g>
<g id="tom-wireless"><rect x="1589" y="251" width="54" height="105" rx="7" fill="#f9b98b" stroke="#333" stroke-width="1.5"/>
<text x="1616" y="288" text-anchor="middle" font-size="9.5">通信事</text><text x="1616" y="300" text-anchor="middle" font-size="9.5">業者回</text><text x="1616" y="312" text-anchor="middle" font-size="9.5">線（無</text><text x="1616" y="324" text-anchor="middle" font-size="9.5">線系）</text></g>
<g id="tom-satellite"><rect x="1589" y="372" width="54" height="105" rx="7" fill="#d98484" stroke="#333" stroke-width="1.5"/>
<text x="1616" y="409" text-anchor="middle" font-size="9.5">通信事</text><text x="1616" y="421" text-anchor="middle" font-size="9.5">業者回</text><text x="1616" y="433" text-anchor="middle" font-size="9.5">線（衛</text><text x="1616" y="445" text-anchor="middle" font-size="9.5">星系）</text></g>
<use href="#sat" x="1634" y="482" width="30" height="11"/>
</g>

<g id="tom-kuni">
<rect x="1681" y="159" width="207" height="116" fill="#dcd7c5" stroke="#444" stroke-width="1.2"/>
<rect x="1681" y="159" width="117" height="18" fill="#fff" stroke="#444" stroke-width="1"/><text x="1739" y="172" class="s6 b" text-anchor="middle">国（原子力規制委員会等）</text>
<use href="#phd" x="1730" y="189" width="18" height="13"/><text x="1754" y="199" class="s6">加入電話機</text>
<use href="#fxd" x="1726" y="210" width="18" height="14"/><text x="1754" y="221" class="s6">加入FAX</text>
<use href="#mbw" x="1727" y="240" width="9" height="16"/><text x="1752" y="252" class="s6">携帯電話</text>
</g>
<g id="tom-local">
<rect x="1681" y="288" width="207" height="156" fill="#dcd7c5" stroke="#444" stroke-width="1.2"/>
<rect x="1681" y="288" width="66" height="19" fill="#fff" stroke="#444" stroke-width="1"/><text x="1714" y="301" class="s6 b" text-anchor="middle">地方公共団体</text>
<use href="#phd" x="1730" y="311" width="18" height="13"/><text x="1754" y="321" class="s6">加入電話機</text>
<use href="#fxd" x="1726" y="333" width="18" height="14"/><text x="1754" y="344" class="s6">加入FAX</text>
<use href="#phd" x="1799" y="352" width="18" height="13"/><text x="1835" y="360" class="s6">専用電話</text>
<use href="#phd" x="1799" y="376" width="18" height="13"/><text x="1853" y="380" class="s6" text-anchor="middle">専用電話設備</text><text x="1853" y="391" class="s6" text-anchor="middle">（固定型）</text>
<use href="#fxd" x="1799" y="401" width="18" height="14"/><text x="1853" y="407" class="s6" text-anchor="middle">専用電話設備</text><text x="1853" y="418" class="s6" text-anchor="middle">（FAX）</text>
<use href="#mbw" x="1735" y="419" width="9" height="16"/><text x="1752" y="431" class="s6">携帯電話</text>
</g>

<g id="tom-connectors">
<path class="k" d="M1387 190H1401M1518 113H1540M1522 133H1540M1522 358H1540M1518 380H1540M1643 179H1675V200"/>
<path class="r" d="M1394 152V233M1439 190H1563M1563 180V485M1569 187V300M1671 203V428M1430 417V475M1421 438H1563"/>
<path class="r" d="M1394 152H1368M1394 179H1372M1394 207H1372M1394 233H1372" marker-end="url(#ar)"/>
<path class="r" d="M1563 212H1587M1563 215H1526M1563 236H1526M1563 262H1445M1563 280H1443M1569 300H1587M1569 306H1510" marker-end="url(#ar)"/>
<path class="r" d="M1430 417H1366M1430 453H1366M1430 475H1366M1563 485H1512" marker-end="url(#ar)"/>
<path class="r" d="M1671 212H1645M1671 313H1645" marker-end="url(#ar)"/>
<path class="r" d="M1671 203H1728M1671 220H1724M1671 251H1725M1671 317H1728M1671 336H1724M1671 358H1797M1671 382H1797M1671 406H1797M1671 428H1733" marker-end="url(#ar)"/>
<path class="r" d="M1612 234V249" marker-start="url(#ar)" marker-end="url(#ar)"/>
<path class="gd" d="M1580 104V430M1654 187V405"/>
<path class="gd" d="M1580 113H1520M1580 137H1524M1580 159H1503M1580 358H1524M1580 383H1520M1580 410H1520M1580 430H1587M1654 187H1645M1654 405H1645" marker-end="url(#ag)"/>
<path class="gd" d="M1610 358V370" marker-start="url(#ag)" marker-end="url(#ag)"/>
</g>

<g id="tom-legend">
<rect x="1709" y="463" width="149" height="34" fill="#fff" stroke="#888" stroke-width="1"/>
<text x="1716" y="471" class="s5">通信の流れ</text>
<path class="r" d="M1718 478H1752" marker-start="url(#ar)" marker-end="url(#ar)"/><text x="1765" y="480" class="s6">通常</text>
<path class="gd" d="M1718 489H1752" marker-start="url(#ag)" marker-end="url(#ag)"/><text x="1765" y="492" class="s6">バックアップ</text>
<rect x="1343" y="505" width="25" height="10" fill="none" stroke="#2b2bd0" stroke-width="1.5"/>
<text x="1373" y="510" class="s5">：基準地震動による地震力に対し，機能を</text>
<text x="1379" y="519" class="s5">維持する範囲（規制基準適用範囲）</text>
</g>
</g>

<!-- ============ captions ============ -->
<g id="captions">
<text x="62" y="548" class="cap" textLength="518" lengthAdjust="spacingAndGlyphs">図４ 通信設備（発電所外）の概要（社外関係箇所１／２）</text>
<text x="674" y="548" class="cap" textLength="571" lengthAdjust="spacingAndGlyphs">第 2.3−3 図　通信連絡設備（発電所外［社外関係箇所］）の概要</text>
<text x="661" y="578" class="cap" textLength="607" lengthAdjust="spacingAndGlyphs">（衛星電話設備，専用電話設備<tspan class="gr">（ホットライン），統合原子力防災ネッ</tspan></text>
<text x="812" y="606" class="cap" textLength="281" lengthAdjust="spacingAndGlyphs"><tspan class="gr">トワークを用いた通信連絡設備</tspan>）</text>
<text x="1289" y="548" class="cap" textLength="612" lengthAdjust="spacingAndGlyphs">第 2.3-2 図　通信連絡設備（発電所外［社外関係箇所］）の概要<tspan class="gr">（そ</tspan></text>
<text x="1594" y="578" class="cap gr" text-anchor="middle">の1）</text>
<text x="1339" y="606" class="cap" textLength="512" lengthAdjust="spacingAndGlyphs">（<tspan class="gr">加入電話設備</tspan>，専用電話設備，衛星電話設備，<tspan class="red">携帯電話</tspan>）</text>
<text x="1922" y="607" class="red" font-size="16" textLength="183" lengthAdjust="spacingAndGlyphs">【女川】設計方針の相違</text>
<text x="1922" y="634" class="red" font-size="16" textLength="152" lengthAdjust="spacingAndGlyphs">・2-2⑤記載のとおり</text>
</g>
</svg>
